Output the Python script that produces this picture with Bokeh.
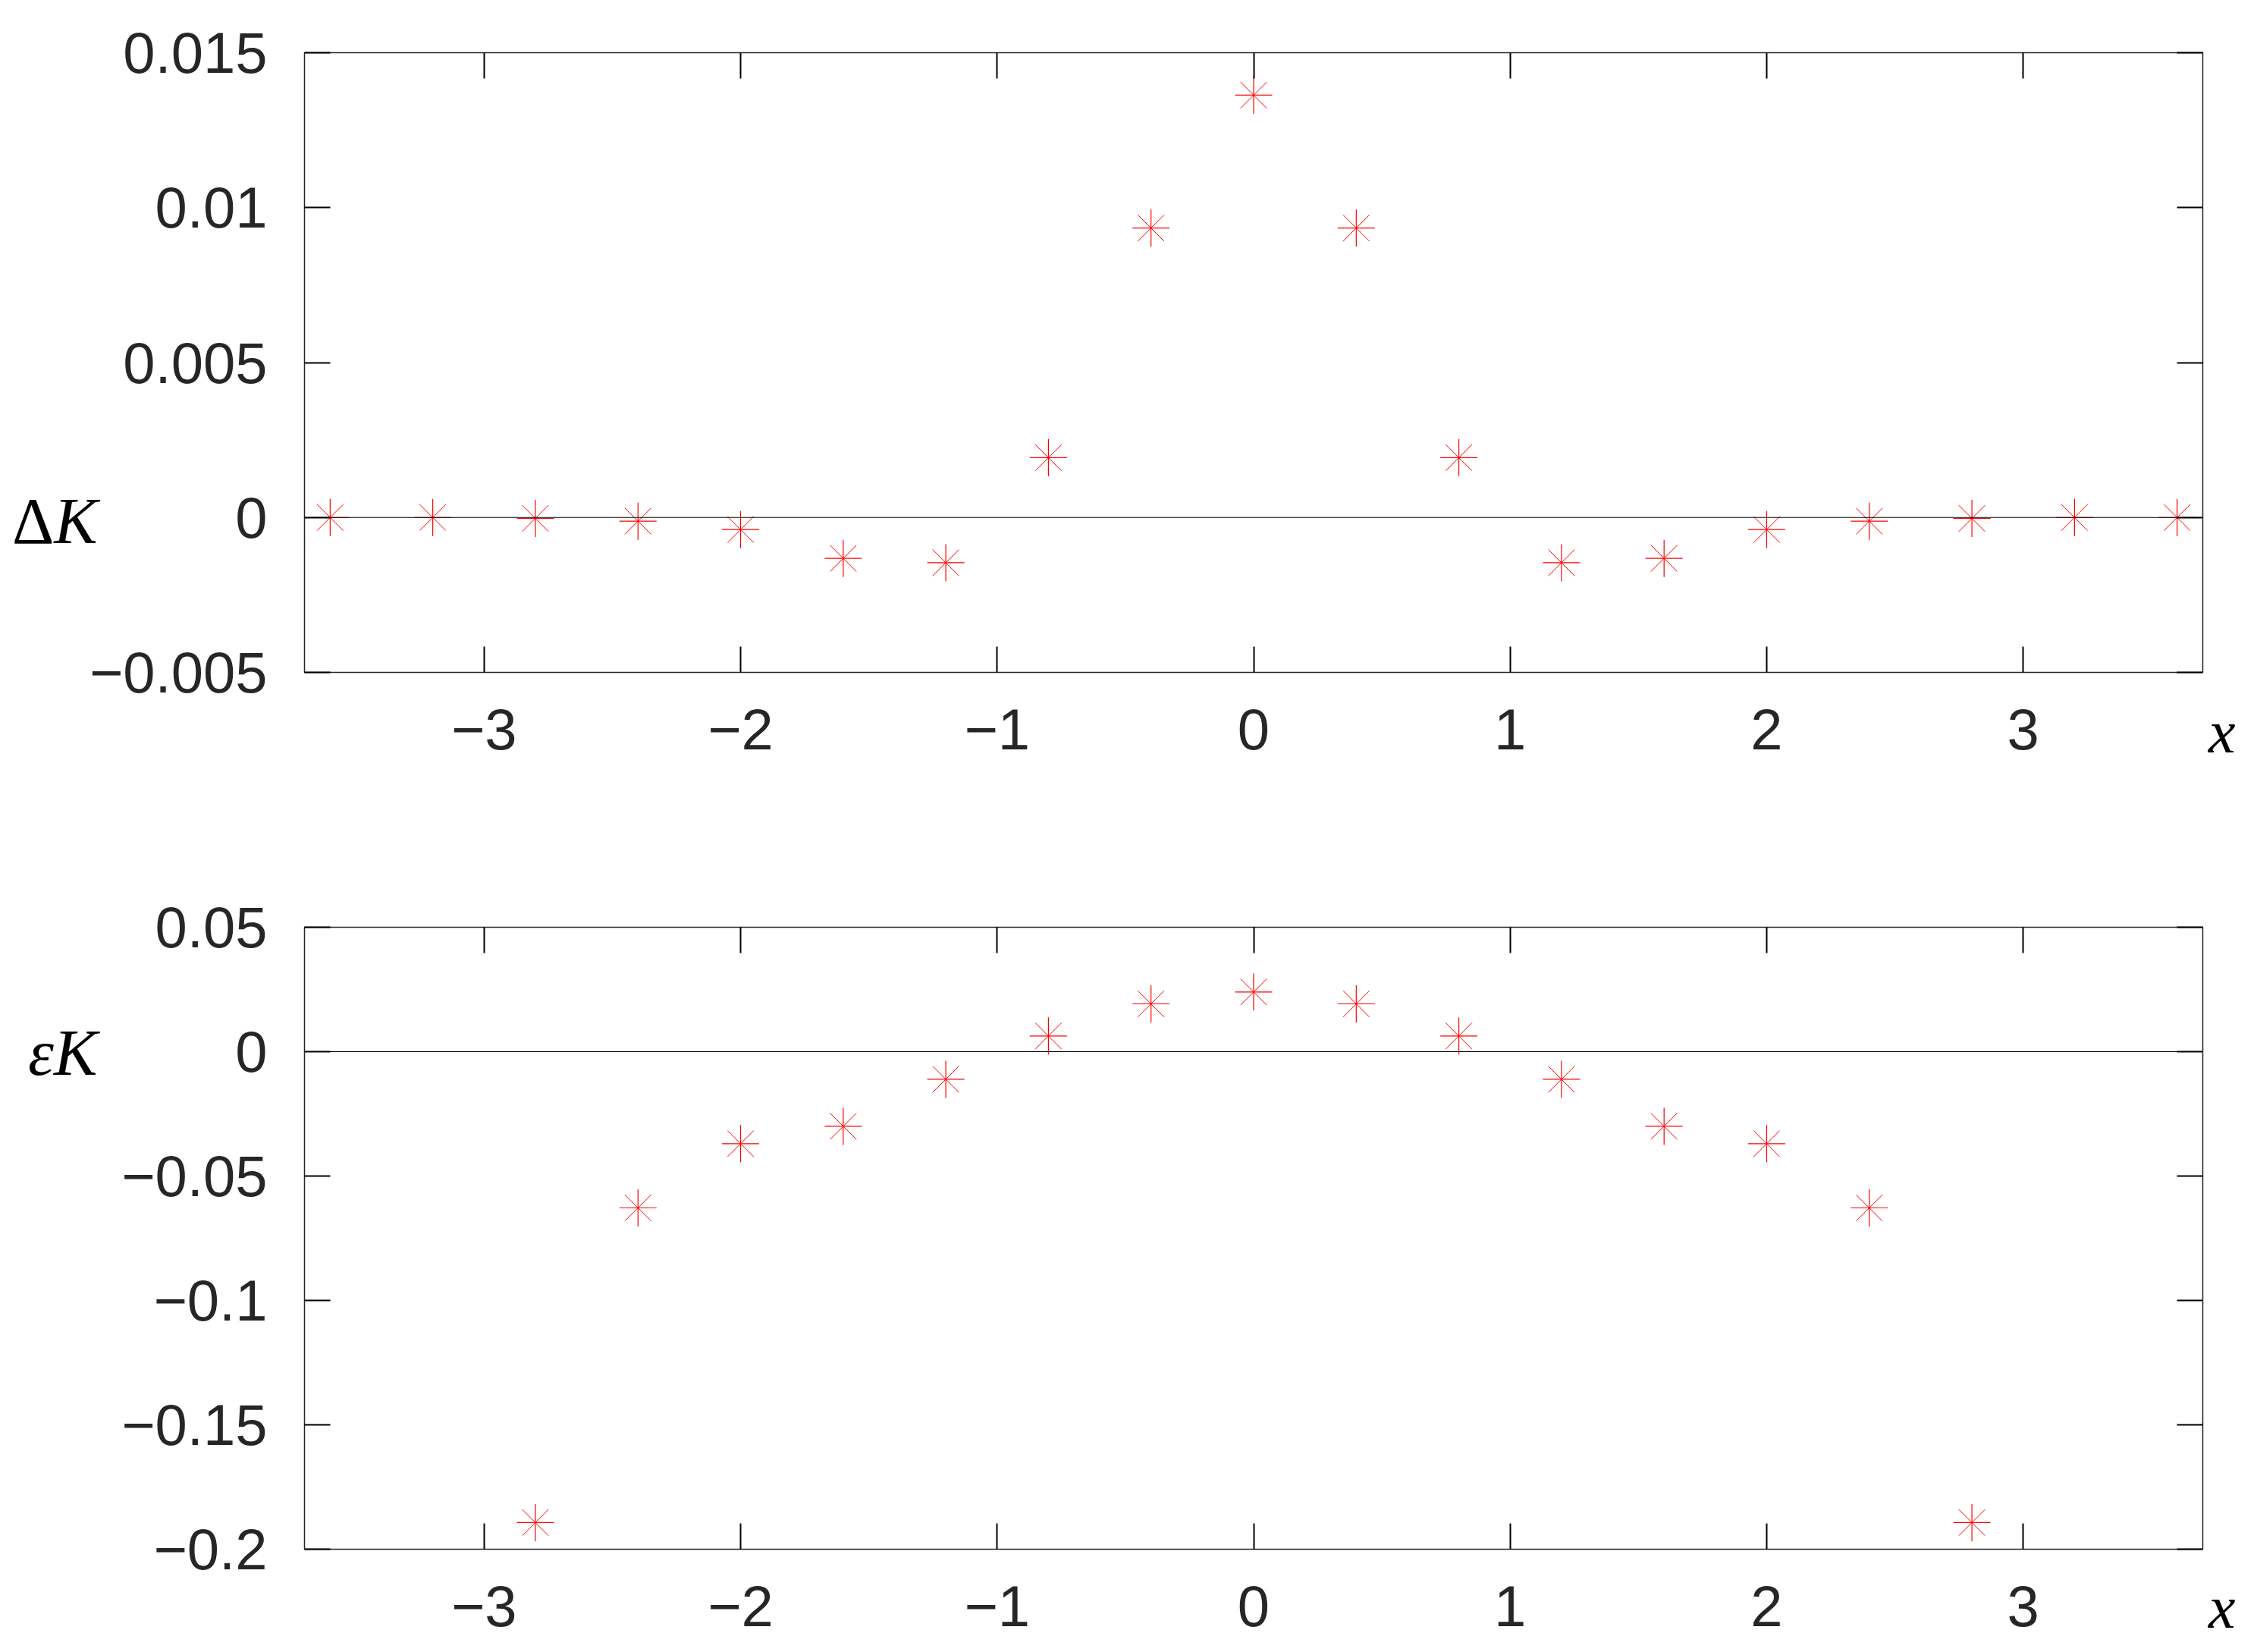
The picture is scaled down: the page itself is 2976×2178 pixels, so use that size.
from bokeh.plotting import figure
from bokeh.layouts import GridBox
from bokeh.models import Range1d, FixedTicker, LinearAxis, Span, ColumnDataSource, Div
from bokeh.embed import file_html
from bokeh.resources import INLINE

# ---------------- data ----------------
x_top = [-3.6, -3.2, -2.8, -2.4, -2.0, -1.6, -1.2, -0.8, -0.4, 0.0,
         0.4, 0.8, 1.2, 1.6, 2.0, 2.4, 2.8, 3.2, 3.6]
delta_K = [0.0, 0.0, -0.00003, -0.00012, -0.00039, -0.00132, -0.00146, 0.00193, 0.00934, 0.01363,
           0.00934, 0.00193, -0.00146, -0.00132, -0.00039, -0.00012, -0.00003, 0.0, 0.0]

x_bot = [-2.8, -2.4, -2.0, -1.6, -1.2, -0.8, -0.4, 0.0, 0.4, 0.8, 1.2, 1.6, 2.0, 2.4, 2.8]
eps_K = [-0.1893, -0.0628, -0.0370, -0.0300, -0.0111, 0.0063, 0.0192, 0.0240,
         0.0192, 0.0063, -0.0111, -0.0300, -0.0370, -0.0628, -0.1893]

x_ticks = [-3, -2, -1, 0, 1, 2, 3]
x_tick_labels = ["\u22123", "\u22122", "\u22121", "0", "1", "2", "3"]
top_y_ticks = [-0.005, 0, 0.005, 0.01, 0.015]
top_y_tick_labels = ["\u22120.005", "0", "0.005", "0.01", "0.015"]
bot_y_ticks = [-0.2, -0.15, -0.1, -0.05, 0, 0.05]
bot_y_tick_labels = ["\u22120.2", "\u22120.15", "\u22120.1", "\u22120.05", "0", "0.05"]

top_y_label = "\u0394<i>K</i>"
bot_y_label = "<i>\u03b5K</i>"
x_label = "<i>x</i>"

X_RANGE = (-3.7, 3.7)
TOP_Y_RANGE = (-0.005, 0.015)
BOT_Y_RANGE = (-0.2, 0.05)

TICK_FONT = "Liberation Sans"
SERIF = "Liberation Serif"
TICK_COLOR = "#262626"
W = 2976


def style_axis(ax, ticks, labels, show_labels, standoff):
    ax.ticker = FixedTicker(ticks=ticks)
    ax.major_label_overrides = {t: l for t, l in zip(ticks, labels)}
    ax.major_tick_in = 34
    ax.major_tick_out = 0
    ax.major_tick_line_color = "black"
    ax.major_tick_line_width = 2
    ax.minor_tick_line_color = None
    ax.axis_line_color = None
    ax.major_label_text_font = TICK_FONT
    ax.major_label_standoff = standoff
    if show_labels:
        ax.major_label_text_color = TICK_COLOR
        ax.major_label_text_font_size = "76px"
    else:
        ax.major_label_text_color = None
        ax.major_label_text_font_size = "1px"


def make_panel(xs, ys, y_range, y_ticks, y_tick_labels, height, b_top, b_bottom):
    p = figure(width=W, height=height, output_backend="svg", toolbar_location=None,
               x_range=Range1d(*X_RANGE), y_range=Range1d(*y_range),
               min_border_left=401, min_border_right=72,
               min_border_top=b_top, min_border_bottom=b_bottom,
               background_fill_color="white", border_fill_color="white")
    p.grid.visible = False
    p.outline_line_color = TICK_COLOR
    p.outline_line_width = 1.5

    style_axis(p.xaxis[0], x_ticks, x_tick_labels, True, 48)
    style_axis(p.yaxis[0], y_ticks, y_tick_labels, True, 49)
    ax_top = LinearAxis()
    style_axis(ax_top, x_ticks, x_tick_labels, False, 0)
    p.add_layout(ax_top, "above")
    ax_right = LinearAxis()
    style_axis(ax_right, y_ticks, y_tick_labels, False, 0)
    p.add_layout(ax_right, "right")

    p.add_layout(Span(location=0, dimension="width", line_color="black", line_width=1.2))

    src = ColumnDataSource(dict(x=xs, y=ys))
    p.scatter("x", "y", source=src, marker="cross", size=49, line_color="#ff0000", line_width=1.2)
    p.scatter("x", "y", source=src, marker="x", size=49, line_color="#ff0000", line_width=1.0)
    return p


def span_html(text, left, top, size):
    return (f'<span style="position:absolute;left:{left}px;top:{top}px;'
            f"font-family:'{SERIF}';font-size:{size}px;line-height:{size}px;"
            f'color:#000;white-space:nowrap;">{text}</span>')


def overlay(height, ylab, ylab_left, ylab_top, xlab_top):
    html = (f'<div style="position:relative;width:{W}px;height:0px;overflow:visible;'
            f'pointer-events:none;">'
            + span_html(ylab, ylab_left, ylab_top, 86)
            + span_html(x_label, 2912, xlab_top, 80)
            + "</div>")
    return Div(text=html, width=W, height=height,
               styles={"pointer-events": "none", "overflow": "visible", "padding": "0", "margin": "0"})


H1, H2 = 1100, 1078
p1 = make_panel(x_top, delta_K, TOP_Y_RANGE, top_y_ticks, top_y_tick_labels, H1, 69, 214)
p2 = make_panel(x_bot, eps_K, BOT_Y_RANGE, bot_y_ticks, bot_y_tick_labels, H2, 122, 136)

d1 = overlay(H1, top_y_label, 16, 632, 913)
d2 = overlay(H2, bot_y_label, 37, 233, 967)

layout = GridBox(children=[(p1, 0, 0), (d1, 0, 0), (p2, 1, 0), (d2, 1, 0)], spacing=0)
open("out.html", "w").write(file_html(layout, INLINE))
